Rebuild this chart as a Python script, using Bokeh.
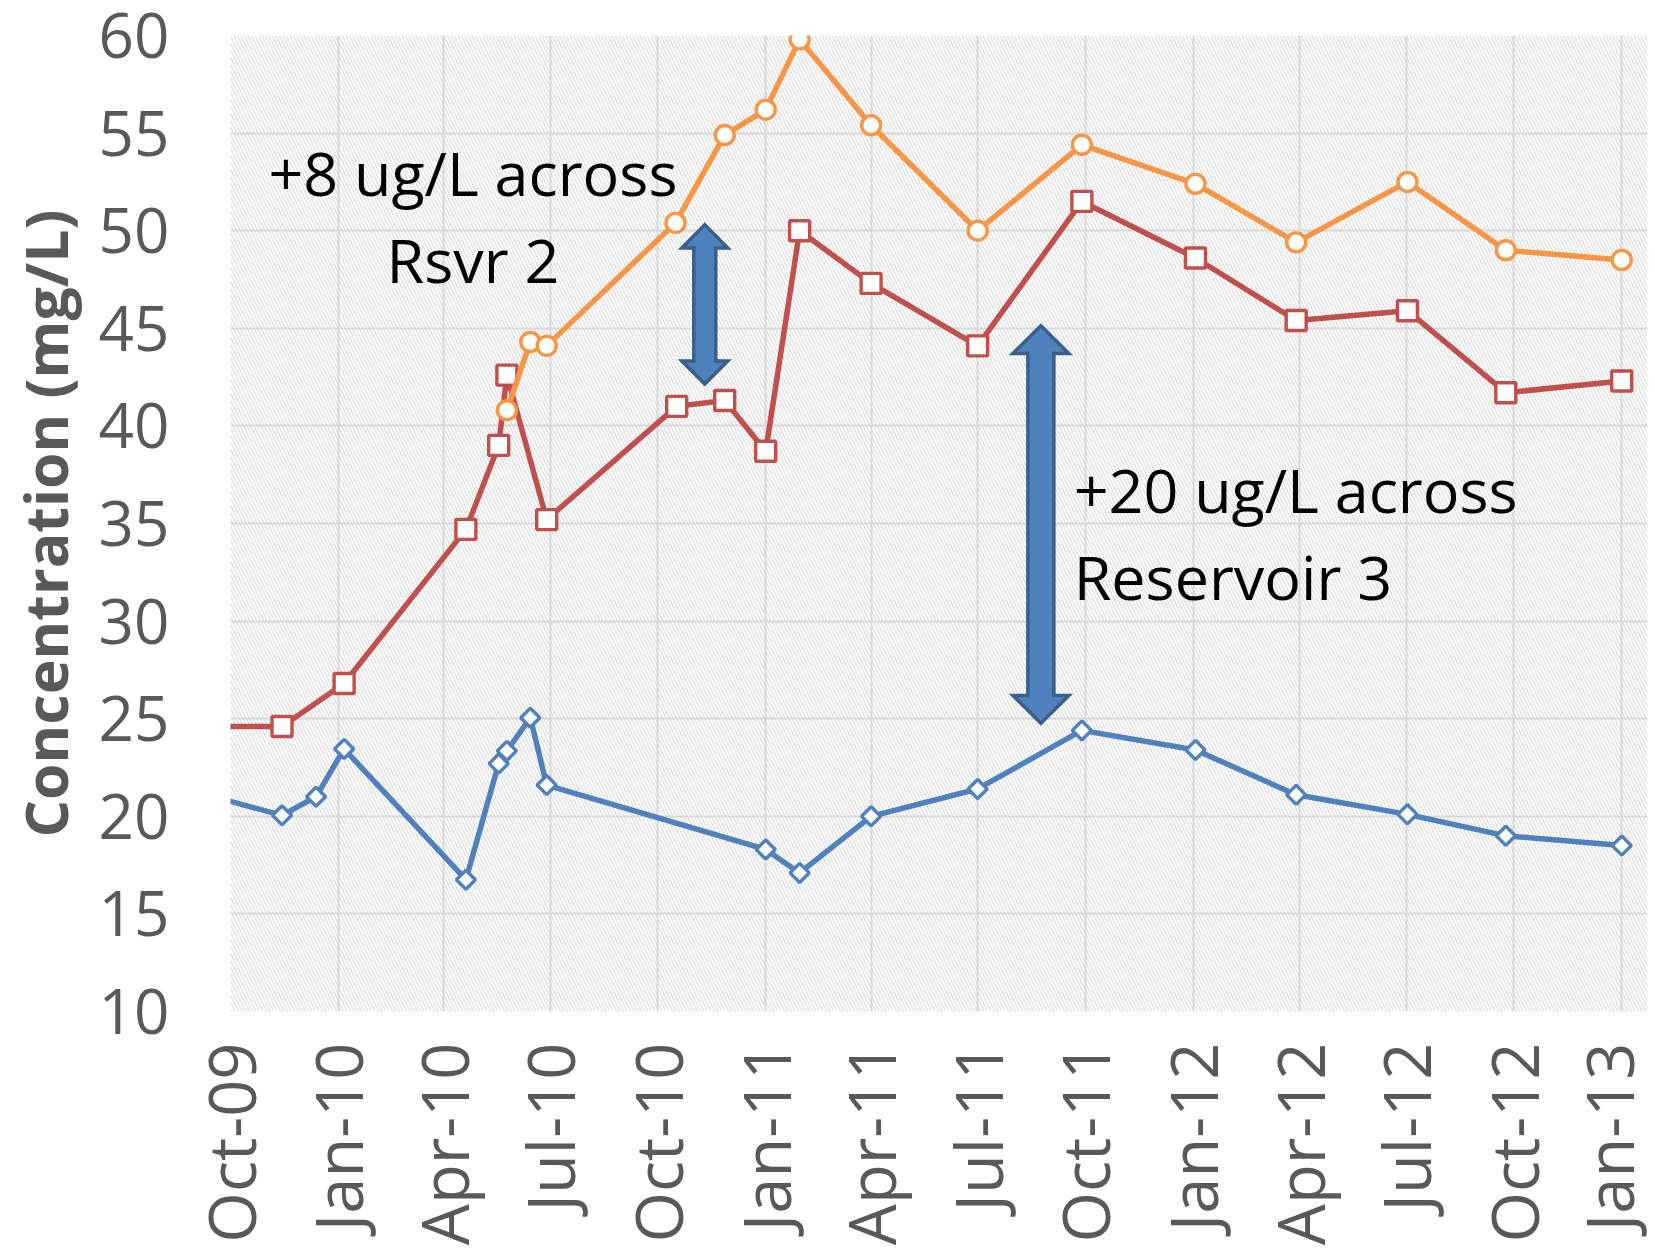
import numpy as np
import pandas as pd
from bokeh.plotting import figure
from bokeh.models import FixedTicker, BoxAnnotation, Range1d, DatetimeTickFormatter
from bokeh.core.properties import value
from bokeh.embed import file_html
from bokeh.resources import INLINE


def ms(d):
    return pd.Timestamp(d).value / 1e6


# ---------------- data ----------------
red_dates = ["2009-09-01", "2009-11-14", "2010-01-06", "2010-04-20", "2010-05-18",
             "2010-05-25", "2010-06-28", "2010-10-17", "2010-11-27", "2011-01-01",
             "2011-01-30", "2011-04-01", "2011-07-01", "2011-09-28", "2012-01-03",
             "2012-03-29", "2012-07-02", "2012-09-24", "2013-01-01"]
red_values = [24.6, 24.6, 26.8, 34.7, 39.0, 42.6, 35.2, 41.0, 41.3, 38.7,
              50.0, 47.3, 44.1, 51.5, 48.6, 45.4, 45.9, 41.7, 42.3]

orange_dates = ["2010-05-25", "2010-06-14", "2010-06-28", "2010-10-16", "2010-11-27",
                "2011-01-01", "2011-01-30", "2011-04-01", "2011-07-01", "2011-09-28",
                "2012-01-03", "2012-03-29", "2012-07-02", "2012-09-24", "2013-01-01"]
orange_values = [40.8, 44.3, 44.1, 50.4, 54.9, 56.2, 59.8, 55.4, 50.0, 54.4,
                 52.4, 49.4, 52.5, 49.0, 48.5]

blue_dates = ["2009-09-01", "2009-11-14", "2009-12-13", "2010-01-06", "2010-04-20",
              "2010-05-18", "2010-05-25", "2010-06-14", "2010-06-28", "2011-01-01",
              "2011-01-30", "2011-04-01", "2011-07-01", "2011-09-28", "2012-01-03",
              "2012-03-29", "2012-07-02", "2012-09-24", "2013-01-01"]
blue_values = [21.25, 20.05, 21.0, 23.45, 16.75, 22.7, 23.35, 25.05, 21.6, 18.3,
               17.1, 20.0, 21.4, 24.4, 23.4, 21.1, 20.1, 19.0, 18.5]

tick_dates = ["2009-10-01", "2010-01-01", "2010-04-01", "2010-07-01", "2010-10-01",
              "2011-01-01", "2011-04-01", "2011-07-01", "2011-10-01", "2012-01-01",
              "2012-04-01", "2012-07-01", "2012-10-01", "2013-01-01"]
tick_labels = ["Oct-09", "Jan-10", "Apr-10", "Jul-10", "Oct-10", "Jan-11", "Apr-11",
               "Jul-11", "Oct-11", "Jan-12", "Apr-12", "Jul-12", "Oct-12", "Jan-13"]
y_ticks = [10, 15, 20, 25, 30, 35, 40, 45, 50, 55, 60]

y_title = "Concentration (mg/L)"

note1_lines = ["+8 ug/L across", "Rsvr 2"]
note1_dates = ["2010-04-26", "2010-04-26"]
note1_values = [52.98, 48.52]
note2_lines = ["+20 ug/L across", "Reservoir 3"]
note2_dates = ["2011-09-21", "2011-09-21"]
note2_values = [36.72, 32.26]

# arrows: centre date, top value, bottom value
arrow1 = ("2010-11-10", 50.3, 42.15)
arrow2 = ("2011-08-24", 45.13, 24.77)

# ---------------- styling ----------------
FONT = "Open Sans"
GRAY = "#595959"
RED = "#C0504D"
ORANGE = "#F79646"
BLUE = "#4F81BD"

tick_ms = [ms(d) for d in tick_dates]

p = figure(width=1652, height=1248, x_axis_type="datetime",
           output_backend="svg", toolbar_location=None,
           x_range=Range1d(ms("2009-10-01"), ms("2013-01-23")),
           y_range=Range1d(10, 60),
           min_border_left=230, min_border_right=5,
           min_border_top=35, min_border_bottom=237)

p.background_fill_color = "white"
p.border_fill_color = "white"
p.outline_line_color = None

hatch = BoxAnnotation(fill_color="white", fill_alpha=1.0, line_color=None,
                      hatch_pattern="left_diagonal_line", hatch_color="#dcdcdc",
                      hatch_scale=7, hatch_weight=1.2, level="image")
p.add_layout(hatch)

# grid
p.xgrid.ticker = FixedTicker(ticks=tick_ms)
p.ygrid.ticker = FixedTicker(ticks=y_ticks)
for g in (p.xgrid, p.ygrid):
    g.grid_line_color = "#D9D9D9"
    g.grid_line_width = 2

# axes
for ax in (p.xaxis, p.yaxis):
    ax.axis_line_color = None
    ax.major_tick_line_color = None
    ax.minor_tick_line_color = None
    ax.major_tick_out = 0
    ax.major_tick_in = 0
    ax.minor_tick_out = 0
    ax.major_label_text_font = FONT
    ax.major_label_text_color = GRAY

p.xaxis.ticker = FixedTicker(ticks=tick_ms)
p.xaxis.formatter = DatetimeTickFormatter(months="%b-%y", days="%b-%y", years="%b-%y")
p.xaxis.major_label_overrides = {t: l for t, l in zip(tick_ms, tick_labels)}
p.xaxis.major_label_orientation = np.pi / 2
p.xaxis.major_label_text_font_size = "65px"
p.xaxis.major_label_standoff = 31

p.yaxis.ticker = FixedTicker(ticks=y_ticks)
p.yaxis.major_label_text_font_size = "62px"
p.yaxis.major_label_standoff = 61
p.yaxis.axis_label = y_title
p.yaxis.axis_label_text_font = FONT
p.yaxis.axis_label_text_font_style = "bold"
p.yaxis.axis_label_text_font_size = "59px"
p.yaxis.axis_label_text_color = GRAY
p.yaxis.axis_label_text_line_height = 1.0
p.yaxis.axis_label_standoff = 11

# series
bx = [ms(d) for d in blue_dates]
rx = [ms(d) for d in red_dates]
ox = [ms(d) for d in orange_dates]

p.line(bx, blue_values, line_color=BLUE, line_width=5.5, line_join="round")
p.scatter(bx, blue_values, marker="square", angle=np.pi / 4, size=13.5,
          fill_color="white", line_color=BLUE, line_width=3.4)

p.line(rx, red_values, line_color=RED, line_width=5.5, line_join="round")
p.scatter(rx, red_values, marker="square", size=20,
          fill_color="white", line_color=RED, line_width=3.4)

p.line(ox, orange_values, line_color=ORANGE, line_width=5.5, line_join="round")
p.scatter(ox, orange_values, marker="circle", size=19,
          fill_color="white", line_color=ORANGE, line_width=3.4)


# block arrows (double headed)
def block_arrow(center, top, bottom, head_hw_days, shaft_hw_days, head_len):
    day = 86400000.0
    xc = ms(center)
    hw = head_hw_days * day
    sw = shaft_hw_days * day
    xs = [xc, xc + hw, xc + sw, xc + sw, xc + hw, xc, xc - hw, xc - sw, xc - sw, xc - hw]
    ys = [top, top - head_len, top - head_len, bottom + head_len, bottom + head_len,
          bottom, bottom + head_len, bottom + head_len, top - head_len, top - head_len]
    p.patch(xs, ys, fill_color=BLUE, line_color="#3A5F8B", line_width=3.5,
            line_join="miter")


block_arrow(*arrow1, head_hw_days=19.6, shaft_hw_days=9.4, head_len=1.18)
block_arrow(*arrow2, head_hw_days=23.9, shaft_hw_days=11.1, head_len=1.42)

# annotations
p.text([ms(d) for d in note1_dates], note1_values, text=note1_lines,
       text_align="center", text_baseline="alphabetic",
       text_font=value(FONT), text_font_size="61px", text_color="black")
p.text([ms(d) for d in note2_dates], note2_values, text=note2_lines,
       text_align="left", text_baseline="alphabetic",
       text_font=value(FONT), text_font_size="61px", text_color="black")

open("out.html", "w").write(file_html(p, INLINE))
